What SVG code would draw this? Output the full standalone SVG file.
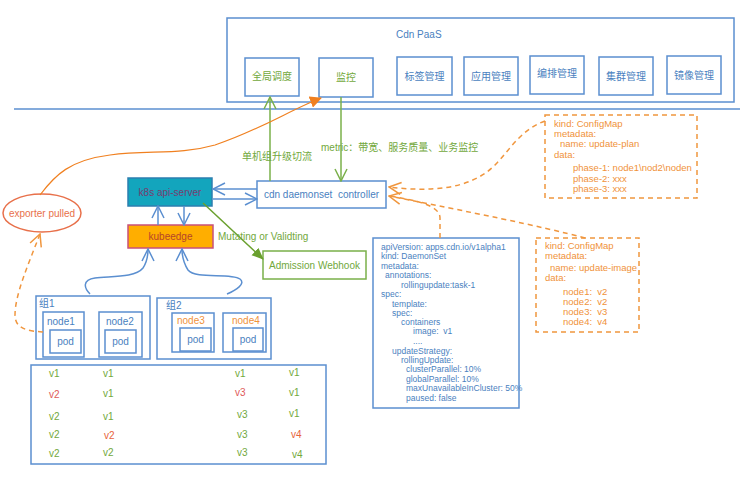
<svg xmlns="http://www.w3.org/2000/svg" width="744" height="477" viewBox="0 0 744 477">
<defs>
<style>
text{font-family:"Liberation Sans","Noto Sans CJK SC",sans-serif;font-size:10px}
.b{fill:none;stroke:#5b8fd0;stroke-width:1.5}
.bt{fill:#4a7fc0}
.gt{fill:#72a83c}
.ot{fill:#f0923a}
.rt{fill:#e05a5a}
.r2{fill:#e8643c}
.sq{fill:#fff;stroke:#5b8fd0;stroke-width:1.5}
.od{fill:none;stroke:#f0963e;stroke-width:1.5;stroke-dasharray:5,4}
.gl{fill:none;stroke:#7ab04a;stroke-width:1.5}
.y text{font-size:8.5px}
.cm text{font-size:9.5px}
</style>
<marker id="ab" viewBox="0 0 14 14" refX="13" refY="7" markerWidth="14" markerHeight="14" orient="auto" markerUnits="userSpaceOnUse"><path d="M1,1 L13,7 L1,13" fill="none" stroke="#5b8fd0" stroke-width="1.5"/></marker>
<marker id="ag" viewBox="0 0 14 14" refX="13" refY="7" markerWidth="14" markerHeight="14" orient="auto" markerUnits="userSpaceOnUse"><path d="M1,1 L13,7 L1,13" fill="none" stroke="#7ab04a" stroke-width="1.5"/></marker>
<marker id="agf" viewBox="0 0 12 12" refX="11" refY="6" markerWidth="12" markerHeight="12" orient="auto" markerUnits="userSpaceOnUse"><path d="M0,1 L12,6 L0,11 z" fill="#6aa02e"/></marker>
<marker id="aof" viewBox="0 0 12 12" refX="11" refY="6" markerWidth="12" markerHeight="12" orient="auto" markerUnits="userSpaceOnUse"><path d="M0,0 L12,6 L0,12 z" fill="#f08020"/></marker>
<marker id="ao" viewBox="0 0 14 14" refX="13" refY="7" markerWidth="14" markerHeight="14" orient="auto" markerUnits="userSpaceOnUse"><path d="M1,1 L13,7 L1,13" fill="none" stroke="#f0963e" stroke-width="1.5"/></marker>
</defs>
<rect width="744" height="477" fill="#fff"/>

<g id="paas">
<rect x="227" y="18" width="507" height="84" class="sq"/>
<text x="396" y="38" class="bt">Cdn PaaS</text>
</g>
<g id="quanju"><rect x="245" y="58" width="54" height="38" class="sq"/><text x="272" y="80" class="gt" text-anchor="middle">全局调度</text></g>
<g id="jiankong"><rect x="319" y="58" width="54" height="39" class="sq"/><text x="346" y="81" class="gt" text-anchor="middle">监控</text></g>
<g id="biaoqian"><rect x="397" y="57" width="55" height="38" class="sq"/><text x="424.5" y="80" class="bt" text-anchor="middle">标签管理</text></g>
<g id="yingyong"><rect x="464" y="57" width="54" height="38" class="sq"/><text x="491" y="80" class="bt" text-anchor="middle">应用管理</text></g>
<g id="bianpai"><rect x="530" y="56" width="54" height="38" class="sq"/><text x="557" y="77" class="bt" text-anchor="middle">编排管理</text></g>
<g id="jiqun"><rect x="599" y="57" width="54" height="38" class="sq"/><text x="626" y="80" class="bt" text-anchor="middle">集群管理</text></g>
<g id="jingxiang"><rect x="667" y="56" width="54" height="38" class="sq"/><text x="694" y="79" class="bt" text-anchor="middle">镜像管理</text></g>

<line x1="14" y1="109" x2="740" y2="109" stroke="#5b8fd0" stroke-width="1.5"/>

<g id="apiserver"><rect x="128" y="178" width="84" height="28" fill="#13a5bd" stroke="#2d7fb0" stroke-width="1.5"/><text x="170" y="196" text-anchor="middle" fill="#7a3c6e">k8s api-server</text></g>
<g id="kubeedge"><rect x="128" y="225" width="85" height="23" fill="#ffae00" stroke="#c8507a" stroke-width="1.5"/><text x="170.5" y="240" text-anchor="middle" fill="#b5452a">kubeedge</text></g>
<g id="controller"><rect x="257" y="181" width="129" height="27" class="sq"/><text x="321.5" y="198" text-anchor="middle" class="bt">cdn daemonset&#160; controller</text></g>
<g id="exporter"><ellipse cx="42" cy="213" rx="39" ry="19" fill="#fff" stroke="#e8704a" stroke-width="1.5"/><text x="42" y="217" text-anchor="middle" fill="#e8704a">exporter pulled</text></g>
<g id="webhook"><rect x="263" y="251" width="103" height="28" fill="#fff" stroke="#7ab04a" stroke-width="1.5"/><text x="314.5" y="269" text-anchor="middle" class="gt">Admission Webhook</text></g>

<g id="group1">
<rect x="36" y="296" width="114" height="63" class="sq"/>
<text x="39" y="307" class="bt">组1</text>
</g>
<g id="node1"><rect x="43" y="312" width="41" height="45" class="sq"/><text x="47" y="325" class="bt">node1</text><rect x="50" y="330" width="31" height="23" class="sq"/><text x="65.5" y="345" text-anchor="middle" class="bt">pod</text></g>
<g id="node2"><rect x="99" y="312" width="43" height="45" class="sq"/><text x="106" y="325" class="bt">node2</text><rect x="105" y="330" width="31" height="23" class="sq"/><text x="120.5" y="345" text-anchor="middle" class="bt">pod</text></g>
<g id="group2">
<rect x="157" y="298" width="114" height="61" class="sq"/>
<text x="166" y="309" class="bt">组2</text>
</g>
<g id="node3"><rect x="172" y="313" width="42" height="39" class="sq"/><text x="177" y="324" class="ot">node3</text><rect x="180" y="328" width="31" height="23" class="sq"/><text x="195.5" y="343" text-anchor="middle" class="bt">pod</text></g>
<g id="node4"><rect x="223" y="313" width="43" height="39" class="sq"/><text x="232" y="324" class="ot">node4</text><rect x="233" y="328" width="30" height="23" class="sq"/><text x="248" y="343" text-anchor="middle" class="bt">pod</text></g>

<g id="versions">
<rect x="31" y="365" width="295" height="99" class="sq"/>
<text x="49" y="377" class="gt">v1</text><text x="103" y="377" class="gt">v1</text><text x="235" y="377" class="gt">v1</text><text x="289" y="376" class="gt">v1</text>
<text x="49" y="398" class="rt">v2</text><text x="103" y="397" class="gt">v1</text><text x="235" y="396" class="rt">v3</text><text x="289" y="396" class="gt">v1</text>
<text x="49" y="420" class="gt">v2</text><text x="103" y="420" class="gt">v1</text><text x="237" y="418" class="gt">v3</text><text x="289" y="417" class="gt">v1</text>
<text x="49" y="438" class="gt">v2</text><text x="104" y="439" class="r2">v2</text><text x="237" y="438" class="gt">v3</text><text x="291" y="438" class="r2">v4</text>
<text x="49" y="457" class="gt">v2</text><text x="103" y="456" class="gt">v2</text><text x="237" y="456" class="gt">v3</text><text x="292" y="458" class="gt">v4</text>
</g>

<g id="daemonset-yaml">
<rect x="373" y="238" width="146" height="170" class="sq"/>
<g class="bt y">
<text x="381" y="250">apiVersion: apps.cdn.io/v1alpha1</text>
<text x="381" y="259">kind: DaemonSet</text>
<text x="381" y="269">metadata:</text>
<text x="385" y="278">annotations:</text>
<text x="401" y="288">rollingupdate:task-1</text>
<text x="381" y="297">spec:</text>
<text x="392" y="307">template:</text>
<text x="392" y="316">spec:</text>
<text x="401" y="325">containers</text>
<text x="413" y="334">image:&#160; v1</text>
<text x="413" y="344">....</text>
<text x="392" y="354">updateStrategy:</text>
<text x="401" y="363">rollingUpdate:</text>
<text x="406" y="372">clusterParallel: 10%</text>
<text x="406" y="382">globalParallel: 10%</text>
<text x="406" y="391">maxUnavailableInCluster: 50%</text>
<text x="406" y="401">paused: false</text>
</g>
</g>

<g id="update-plan">
<rect x="545" y="115" width="152" height="83" class="od"/>
<g class="ot cm">
<text x="554" y="127">kind: ConfigMap</text>
<text x="554" y="137">metadata:</text>
<text x="560" y="147">name: update-plan</text>
<text x="554" y="158">data:</text>
<text x="573" y="171">phase-1: node1\nod2\noden</text>
<text x="573" y="182">phase-2: xxx</text>
<text x="573" y="192">phase-3: xxx</text>
</g>
</g>

<g id="update-image">
<rect x="536" y="238" width="103" height="94" class="od"/>
<g class="ot cm">
<text x="545" y="249">kind: ConfigMap</text>
<text x="545" y="259">metadata:</text>
<text x="550" y="271">name: update-image</text>
<text x="545" y="281">data:</text>
<text x="563" y="295">node1:&#160; v2</text>
<text x="563" y="305">node2:&#160; v2</text>
<text x="563" y="315">node3:&#160; v3</text>
<text x="563" y="325">node4:&#160; v4</text>
</g>
</g>

<g id="connectors">
<line x1="270" y1="181" x2="270" y2="97" class="gl" marker-end="url(#ag)"/>
<text x="242" y="160" class="gt">单机组升级切流</text>
<line x1="341" y1="97" x2="341" y2="181" class="gl" marker-end="url(#ag)"/>
<text x="321" y="151" class="gt">metric：带宽、服务质量、业务监控</text>
<line x1="257" y1="189" x2="213" y2="189" class="b" marker-end="url(#ab)"/>
<line x1="213" y1="199" x2="257" y2="199" class="b" marker-end="url(#ab)"/>
<line x1="158" y1="225" x2="158" y2="206" class="b" marker-end="url(#ab)"/>
<line x1="184" y1="206" x2="184" y2="225" class="b" marker-end="url(#ab)"/>
<line x1="203" y1="203" x2="263" y2="259" stroke="#6aa02e" stroke-width="1.5" marker-end="url(#agf)"/>
<text x="218" y="240" class="gt">Mutating or Validting</text>
<path d="M90,294 C84,288 82,280 95,278 C110,276 135,278 143,268 C147,262 148,256 148,249" class="b" marker-end="url(#ab)"/>
<path d="M227,294 C236,290 246,284 240,279 C230,272 196,280 188,270 C183,262 182,256 182,249" class="b" marker-end="url(#ab)"/>
<path d="M40,195 C55,175 70,160 110,155 C150,150 180,155 215,145 C260,130 290,110 321,98" fill="none" stroke="#f08020" stroke-width="1.2" marker-end="url(#aof)"/>
<path d="M43,332 C30,331 15,330 15,315 C15,295 28,265 40,234" class="od" marker-end="url(#ao)"/>
<path d="M545,121 C520,130 510,150 495,165 C470,190 430,192 389,187" class="od" marker-end="url(#ao)"/>
<path d="M585,238 C540,226 470,212 389,196" class="od" marker-end="url(#ao)"/>
<path d="M440,238 L440,218 C440,205 415,200 389,196" class="od"/>
</g>
</svg>
